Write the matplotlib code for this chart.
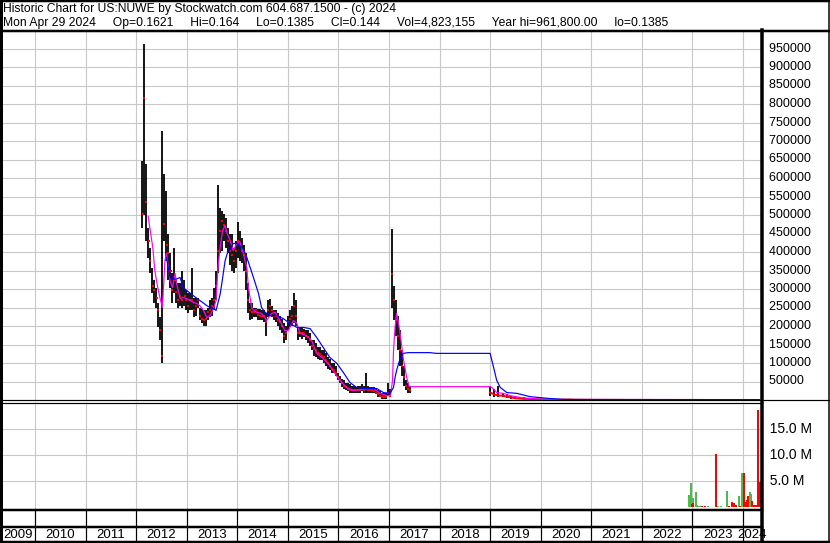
import numpy as np
import pandas as pd
import matplotlib
matplotlib.use("Agg")
import matplotlib.pyplot as plt
from matplotlib.lines import Line2D

plt.rcParams['font.family'] = ['Liberation Sans', 'DejaVu Sans']

W, H = 830, 543

title1 = "Historic Chart for US:NUWE by Stockwatch.com 604.687.1500 - (c) 2024"
title2 = ("Mon Apr 29 2024     Op=0.1621     Hi=0.164     Lo=0.1385     Cl=0.144     "
          "Vol=4,823,155     Year hi=961,800.00     lo=0.1385")

# price bars 2012 - mid 2017 (values in thousands)
bar_hi = [647, 961, 639, 466, 412, 358, 323, 304, 261, 223,
          726, 612, 566, 450, 396, 342, 412, 323, 315, 315,
          350, 323, 296, 288, 288, 358, 277, 277, 277, 250,
          250, 242, 242, 250, 269, 277, 304, 350, 580, 520,
          512, 504, 493, 466, 450, 450, 412, 431, 480, 458,
          439, 418, 396, 315, 261, 261, 250, 250, 247, 247,
          242, 242, 234, 269, 274, 255, 242, 242, 234, 228,
          220, 207, 201, 228, 242, 255, 288, 269, 196, 196,
          196, 193, 188, 188, 180, 161, 161, 153, 142, 142,
          134, 134, 128, 115, 112, 101, 99, 93, 72, 66,
          58, 53, 45, 45, 42, 39, 39, 36, 39, 39,
          42, 39, 72, 39, 36, 36, 34, 31, 26, 23,
          20, 20, 20, 45, 31, 463, 309, 269, 228, 188,
          134, 93, 53, 45, 39]
bar_lo = [466, 499, 431, 385, 342, 288, 261, 250, 196, 161,
          101, 431, 377, 323, 304, 261, 288, 261, 250, 255,
          250, 255, 242, 234, 242, 242, 223, 228, 250, 215,
          207, 201, 201, 215, 223, 228, 242, 269, 342, 396,
          404, 431, 412, 396, 364, 350, 342, 358, 385, 377,
          369, 350, 296, 234, 215, 220, 223, 223, 215, 215,
          215, 210, 174, 223, 228, 223, 215, 210, 201, 188,
          180, 153, 161, 188, 196, 201, 207, 201, 161, 169,
          166, 169, 161, 153, 147, 134, 120, 115, 112, 107,
          107, 101, 93, 85, 80, 74, 72, 66, 53, 45,
          36, 31, 26, 23, 20, 20, 20, 20, 20, 20,
          23, 20, 18, 20, 20, 18, 18, 15, 9, 7,
          4, 4, 4, 12, 7, 250, 215, 174, 134, 93,
          66, 39, 26, 20, 20]
bar_cl = [504, 815, 534, 431, 377, 309, 296, 277, 242, 188,
          120, 477, 418, 396, 350, 296, 323, 291, 269, 282,
          269, 282, 269, 255, 269, 269, 242, 255, 269, 228,
          220, 215, 220, 237, 242, 255, 269, 309, 404, 458,
          485, 472, 458, 431, 404, 391, 377, 404, 431, 418,
          404, 391, 350, 269, 242, 237, 237, 242, 231, 228,
          228, 226, 210, 242, 255, 242, 228, 226, 215, 210,
          201, 174, 182, 210, 220, 228, 255, 228, 182, 182,
          180, 180, 174, 169, 161, 147, 139, 134, 128, 123,
          120, 115, 107, 99, 93, 85, 80, 74, 61, 53,
          45, 39, 34, 31, 28, 26, 26, 26, 28, 26,
          31, 26, 31, 26, 26, 26, 23, 20, 15, 12,
          9, 9, 9, 18, 12, 341, 269, 215, 174, 134,
          93, 61, 39, 31, 28]

# monthly bars 2019-01 .. 2024-04 (thousands)
late_hi = [39, 31, 39, 20, 15, 12, 9, 8, 7, 6, 5, 4,
           3, 3, 2.5, 2, 2, 2, 2.5, 3, 2, 1.5, 1.2, 1,
           1, 0.9, 0.8, 0.8, 0.7, 0.7, 0.6, 0.6, 0.5, 0.5, 0.5, 0.4,
           0.4, 0.4, 0.3, 0.3, 0.3, 0.2, 0.2, 0.2, 0.2, 0.1, 0.1, 0.1,
           0.1, 0.1, 0.1, 0.1, 0.1, 0.1, 0.1, 0.1, 0.1, 0.1, 0.1, 0.1,
           0.1, 0.1, 0.1, 0.1]
late_lo = [12, 9, 7, 7, 5, 4, 4, 3, 2, 2, 1.5, 1,
           1, 0.8, 0.6, 0.5, 0.5, 0.4, 0.5, 0.6, 0.4, 0.3, 0.3, 0.3,
           0.2, 0.2, 0.2, 0.2, 0.2, 0.2, 0.2, 0.1, 0.1, 0.1, 0.1, 0.1,
           0.1, 0.1, 0.1, 0.1, 0.1, 0, 0, 0, 0, 0, 0, 0,
           0, 0, 0, 0, 0, 0, 0, 0, 0, 0, 0, 0,
           0, 0, 0, 0]
late_cl = [20, 15, 12, 12, 9, 7, 5, 4, 3, 3, 2, 2,
           1.5, 1.2, 1, 0.8, 0.8, 0.7, 1, 1.2, 0.7, 0.6, 0.5, 0.5,
           0.5, 0.4, 0.4, 0.4, 0.3, 0.3, 0.3, 0.3, 0.2, 0.2, 0.2, 0.2,
           0.2, 0.2, 0.2, 0.1, 0.1, 0.1, 0.1, 0.1, 0.1, 0.1, 0.1, 0.1,
           0.05, 0.05, 0.05, 0.05, 0.05, 0.05, 0.05, 0.05, 0.05, 0.05, 0.05, 0.05,
           0.05, 0.05, 0.05, 0.05]

# short moving average (magenta)
mag_year = [2012.24, 2012.27, 2012.33, 2012.37, 2012.42, 2012.47, 2012.52, 2012.57, 2012.60, 2012.64,
            2012.67, 2012.72, 2012.77, 2012.80, 2012.87, 2012.93, 2013.00, 2013.07, 2013.13, 2013.20,
            2013.26, 2013.33, 2013.40, 2013.46, 2013.53, 2013.58, 2013.62, 2013.66, 2013.71, 2013.76,
            2013.80, 2013.86, 2013.92, 2013.99, 2014.05, 2014.12, 2014.15, 2014.19, 2014.22, 2014.29,
            2014.38, 2014.48, 2014.58, 2014.68, 2014.75, 2014.84, 2014.94, 2015.01, 2015.11, 2015.18,
            2015.24, 2015.37, 2015.47, 2015.57, 2015.70, 2015.83, 2015.93, 2016.03, 2016.16, 2016.29,
            2016.43, 2016.56, 2016.69, 2016.82, 2016.95, 2017.03, 2017.07, 2017.09, 2017.12, 2017.15,
            2017.18, 2017.22, 2017.28, 2017.35, 2017.40, 2019.00, 2019.06, 2019.13, 2019.26, 2019.39,
            2019.59, 2019.79, 2020.18, 2024.33]
mag_val = [496, 466, 412, 350, 309, 277, 250, 377, 396, 358,
           323, 304, 342, 315, 274, 277, 274, 269, 264, 261,
           255, 242, 223, 228, 247, 269, 358, 412, 458, 472,
           450, 431, 404, 423, 428, 396, 377, 358, 304, 247,
           237, 234, 215, 234, 237, 215, 188, 188, 215, 207,
           180, 174, 161, 126, 112, 93, 72, 53, 34, 26,
           28, 31, 31, 18, 12, 12, 53, 134, 196, 234,
           215, 180, 115, 61, 36, 36, 31, 20, 18, 12,
           7, 4, 1.4, 0.5]

# long moving average (blue)
blue_year = [2012.60, 2012.67, 2012.77, 2012.87, 2012.93, 2013.00, 2013.13, 2013.26, 2013.40, 2013.46,
             2013.53, 2013.58, 2013.66, 2013.70, 2013.76, 2013.80, 2013.86, 2013.92, 2013.99, 2014.05,
             2014.12, 2014.19, 2014.32, 2014.42, 2014.48, 2014.55, 2014.65, 2014.78, 2014.91, 2015.04,
             2015.18, 2015.31, 2015.44, 2015.57, 2015.70, 2015.83, 2015.97, 2016.10, 2016.23, 2016.36,
             2016.49, 2016.62, 2016.76, 2016.89, 2017.02, 2017.09, 2017.12, 2017.15, 2017.22, 2017.28,
             2017.38, 2017.81, 2017.94, 2018.60, 2019.00, 2019.06, 2019.13, 2019.20, 2019.33, 2019.53,
             2019.79, 2020.18, 2020.50, 2024.33]
blue_val = [385, 331, 326, 331, 304, 296, 282, 269, 255, 250,
            247, 242, 285, 320, 377, 395, 410, 423, 423, 418,
            408, 385, 331, 288, 250, 237, 228, 228, 220, 207,
            196, 196, 193, 169, 142, 115, 99, 74, 47, 34,
            31, 31, 31, 20, 18, 34, 61, 80, 112, 126,
            128, 128, 126, 126, 126, 93, 53, 34, 20, 18,
            9, 4, 1.4, 1]

# volume (millions)
vol_year = [2022.93, 2022.97, 2022.99, 2023.01, 2023.02, 2023.07, 2023.10, 2023.14, 2023.18, 2023.24,
            2023.31, 2023.47, 2023.51, 2023.57, 2023.68, 2023.72, 2023.78, 2023.82, 2023.86, 2023.92,
            2023.94, 2023.98, 2024.02, 2024.04, 2024.07, 2024.10, 2024.13, 2024.16, 2024.18, 2024.22,
            2024.26, 2024.30, 2024.33]
vol_val = [2.3, 4.7, 0.6, 1.8, 0.8, 2.9, 0.4, 0.3, 0.2, 0.2,
           0.3, 10.2, 0.2, 0.2, 3.1, 0.2, 1.0, 0.9, 0.5, 2.2,
           0.3, 6.6, 6.6, 1.0, 1.5, 2.2, 2.9, 2.5, 1.2, 0.5,
           0.5, 18.6, 4.8]
vol_up = ['g', 'g', 'r', 'g', 'r', 'g', 'g', 'g', 'r', 'r',
          'g', 'r', 'g', 'g', 'g', 'r', 'r', 'r', 'r', 'g',
          'r', 'g', 'r', 'r', 'r', 'r', 'g', 'g', 'r', 'r',
          'r', 'r', 'r']

price_ticks = list(range(50000, 1000000, 50000))
vol_ticks = [5e6, 10e6, 15e6]
vol_tick_labels = ["5.0 M", "10.0 M", "15.0 M"]
years = list(range(2009, 2025))


def px_rect(x0, y0, x1, y1):
    return [x0 / W, 1 - y1 / H, (x1 - x0) / W, (y1 - y0) / H]


def to_year(dates):
    return np.array([d.year + (d.dayofyear - 1) / 365.25 for d in dates])


XMIN, XMAX = 2009.328, 2024.376
GRID = '#c8c8c8'
PX = 0.72  # one pixel in points

bar_dates = to_year(pd.date_range("2012-02-12", "2017-05-31", periods=len(bar_hi)))
late_dates = to_year(pd.date_range("2019-01-01", periods=len(late_hi), freq="MS"))

fig = plt.figure(figsize=(W / 100, H / 100), dpi=100)

# price panel
ax = fig.add_axes(px_rect(1, 30, 762, 400))
ax.set_xlim(XMIN, XMAX)
ax.set_ylim(0, 1000000)
ax.set_xticks(years[1:])
ax.set_yticks(price_ticks)
ax.grid(True, color=GRID, lw=1.1 * PX)
ax.tick_params(length=0, labelbottom=False, labelleft=False)
for s in ax.spines.values():
    s.set_visible(False)

k = 1000
ax.vlines(bar_dates, np.array(bar_lo) * k, np.array(bar_hi) * k, color='black', lw=1.8 * PX, zorder=3)
ax.plot(bar_dates + 0.012, np.array(bar_cl) * k, 's', color='red', ms=1.6, mew=0, zorder=4)
ax.vlines(late_dates, np.array(late_lo) * k, np.array(late_hi) * k, color='black', lw=1.8 * PX, zorder=3)
ax.plot(late_dates, np.array(late_cl) * k, color='red', lw=2 * PX, zorder=3)
ax.plot(mag_year, np.array(mag_val) * k, color='#ff00ff', lw=1.2 * PX, zorder=5)
ax.plot(blue_year, np.array(blue_val) * k, color='#0000ff', lw=1.2 * PX, zorder=6)

ax.text(7, 45, "US:NUWE", transform=None, fontsize=9.5, va='baseline')
for t in price_ticks:
    ax.text(XMAX, t, "  " + str(t), fontsize=9, va='center', ha='left', clip_on=False)

# volume panel
axv = fig.add_axes(px_rect(1, 402, 762, 510))
axv.set_xlim(XMIN, XMAX)
axv.set_ylim(-0.5e6, 20.1e6)
axv.set_xticks(years[1:])
axv.set_yticks(vol_ticks)
axv.grid(True, color=GRID, lw=1.1 * PX)
axv.tick_params(length=0, labelbottom=False, labelleft=False)
for s in axv.spines.values():
    s.set_visible(False)
vcol = {'g': '#4cbb4c', 'r': '#ff0000'}
axv.bar(vol_year, np.array(vol_val) * 1e6, width=0.04,
        color=[vcol[c] for c in vol_up], zorder=3)
for t, lab in zip(vol_ticks, vol_tick_labels):
    axv.text(XMAX, t, "  " + lab, fontsize=10, va='center', ha='left', clip_on=False)

# date strip
axd = fig.add_axes(px_rect(1, 510, 762, 542))
axd.set_xlim(XMIN, XMAX)
axd.set_ylim(0, 1)
axd.axis('off')
for y in years[1:]:
    axd.axvline(y, color='black', lw=1.2 * PX)
for y in years:
    c = (max(y, XMIN) + min(y + 1, XMAX)) / 2
    axd.text(c, 0.23, str(y), fontsize=9.5, ha='center', va='center')

# frame lines (pixel overlay)
ov = fig.add_axes([0, 0, 1, 1], zorder=10)
ov.set_xlim(0, W)
ov.set_ylim(H, 0)
ov.axis('off')
ov.patch.set_alpha(0)
frame = [
    ((0, 830), (1, 1), 2.5), ((0, 830), (30.5, 30.5), 2.5),
    ((1, 1), (0, 543), 3), ((762, 762), (30, 542), 3.5), ((828.5, 828.5), (0, 543), 1.5),
    ((0, 830), (399.5, 399.5), 1.2), ((0, 762), (402.5, 402.5), 1.2),
    ((0, 762), (510, 510), 2.5), ((0, 762), (527, 527), 2.5), ((0, 830), (541.8, 541.8), 2.5),
]
for xs, ys, w in frame:
    ov.add_line(Line2D(xs, ys, color='black', lw=w * PX))

fig.text(3 / W, 1 - 11.7 / H, title1, fontsize=8.75, va='baseline')
fig.text(3 / W, 1 - 26 / H, title2, fontsize=8.75, va='baseline')

fig.savefig("out.png", dpi=100)
